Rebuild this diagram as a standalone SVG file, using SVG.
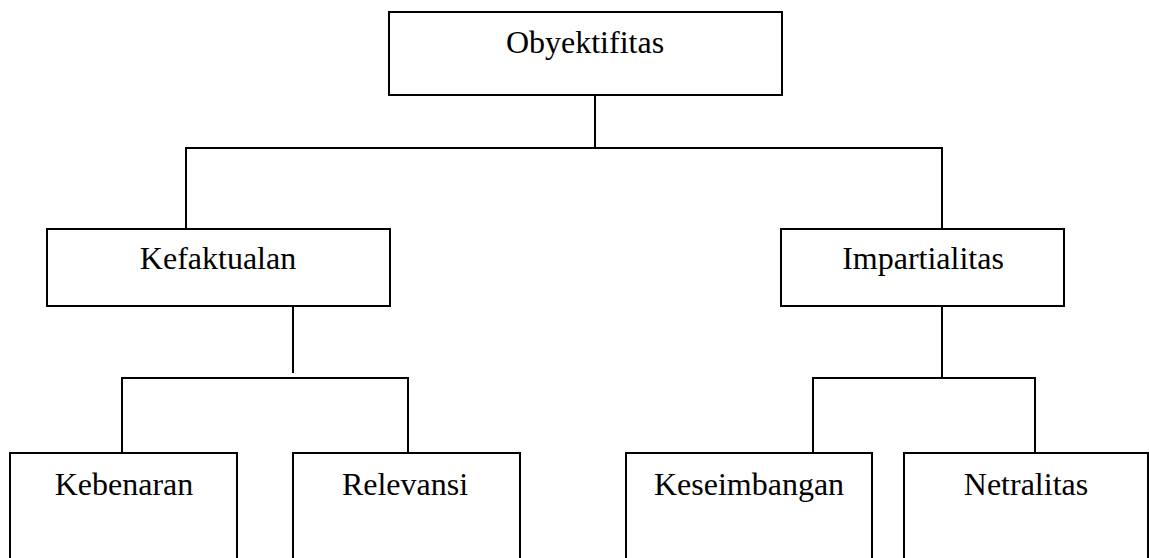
<svg xmlns="http://www.w3.org/2000/svg" width="1149" height="558" viewBox="0 0 1149 558">
<style>
.box{fill:#fff;stroke:#000;stroke-width:2}
.lbl{font-family:"Liberation Serif","Times New Roman",serif;font-size:32px;fill:#000;text-anchor:middle}
.con{stroke:#000;stroke-width:2;fill:none}
</style>
<rect width="1149" height="558" fill="#fff"/>
<g id="connectors">
<line class="con" x1="595" y1="95" x2="595" y2="148"/>
<line class="con" x1="185" y1="148" x2="943" y2="148"/>
<line class="con" x1="186" y1="148" x2="186" y2="229"/>
<line class="con" x1="942" y1="148" x2="942" y2="229"/>
<line class="con" x1="293" y1="306" x2="293" y2="373"/>
<line class="con" x1="121" y1="378" x2="409" y2="378"/>
<line class="con" x1="122" y1="378" x2="122" y2="453"/>
<line class="con" x1="408" y1="378" x2="408" y2="453"/>
<line class="con" x1="942" y1="306" x2="942" y2="378"/>
<line class="con" x1="812" y1="378" x2="1036" y2="378"/>
<line class="con" x1="813" y1="378" x2="813" y2="453"/>
<line class="con" x1="1035" y1="378" x2="1035" y2="453"/>
</g>
<g id="obyektifitas">
<rect class="box" x="389" y="12" width="393" height="83"/>
<text class="lbl" x="585" y="53">Obyektifitas</text>
</g>
<g id="kefaktualan">
<rect class="box" x="47" y="229" width="343" height="77"/>
<text class="lbl" x="218" y="269">Kefaktualan</text>
</g>
<g id="impartialitas">
<rect class="box" x="781" y="229" width="283" height="77"/>
<text class="lbl" x="923" y="269">Impartialitas</text>
</g>
<g id="kebenaran">
<rect class="box" x="10" y="453" width="227" height="120"/>
<text class="lbl" x="124" y="495">Kebenaran</text>
</g>
<g id="relevansi">
<rect class="box" x="293" y="453" width="227" height="120"/>
<text class="lbl" x="405" y="495">Relevansi</text>
</g>
<g id="keseimbangan">
<rect class="box" x="626" y="453" width="246" height="120"/>
<text class="lbl" x="749" y="495">Keseimbangan</text>
</g>
<g id="netralitas">
<rect class="box" x="904" y="453" width="244" height="120"/>
<text class="lbl" x="1026" y="495">Netralitas</text>
</g>
</svg>
